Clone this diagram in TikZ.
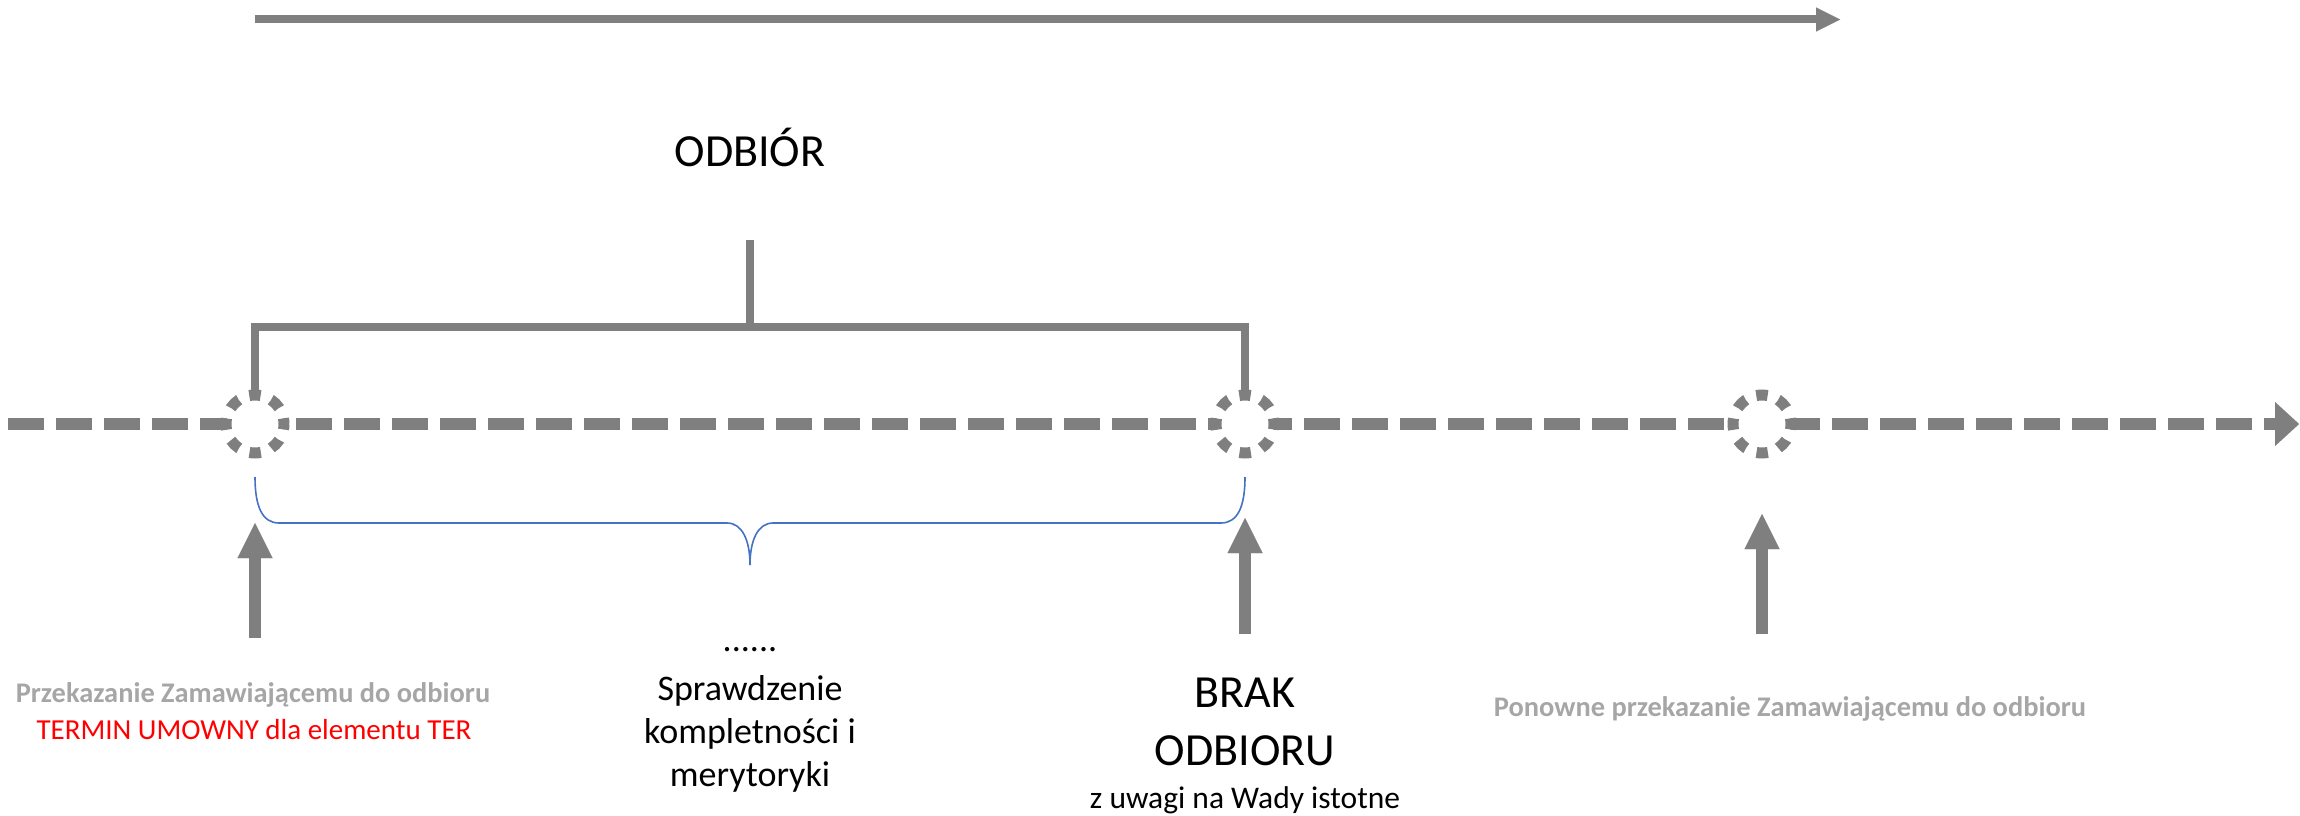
\documentclass[tikz,border=0pt]{standalone}
\usepackage{fontspec}
\setmainfont{Carlito}
\usetikzlibrary{arrows.meta}
\definecolor{lgray}{HTML}{7F7F7F}
\definecolor{tgray}{HTML}{A6A6A6}
\definecolor{bblue}{HTML}{4472C4}
\definecolor{tred}{HTML}{FF0000}
\tikzset{
  timeline/.style={draw=lgray, line width=12pt, dash pattern=on 36pt off 12pt,
    -{Triangle[length=24pt,width=44pt,line width=0.01pt]}},
  milestone/.style={circle, draw=lgray, fill=white, line width=11pt, minimum size=58pt,
    inner sep=0pt, dash pattern=on 11.39pt off 11.39pt, dash phase=5.7pt},
  bracketline/.style={draw=lgray, line width=8pt},
  toparrow/.style={draw=lgray, line width=8pt, -{Triangle[length=24pt,width=24pt,line width=0.01pt]}},
  uparrow/.style={draw=lgray, line width=12pt, -{Triangle[length=35pt,width=35pt,line width=0.01pt]}},
  brace/.style={draw=bblue, line width=1.6pt},
  txt/.style={inner sep=0pt, anchor=base},
  big/.style={txt, font=\fontsize{46}{55}\selectfont},
  mid/.style={txt, font=\fontsize{36}{43}\selectfont},
  sub/.style={txt, font=\fontsize{31.5}{38}\selectfont},
  greytxt/.style={txt, text=tgray, font=\fontsize{28.4}{34}\selectfont\bfseries},
  redtxt/.style={txt, text=tred, font=\fontsize{29}{35}\selectfont},
}
\begin{document}
\begin{tikzpicture}[x=1pt, y=-1pt]
\useasboundingbox (0,0) rectangle (2300,816);
% top arrow
\coordinate (ta1) at (255,19.5);
\coordinate (ta2) at (1840,19.5);
\draw[toparrow] (ta1) -- (ta2);
% timeline
\coordinate (ls) at (8,424);
\coordinate (le) at (2299,424);
\draw[timeline] (ls) -- (le);
% milestones
\node[milestone] (c1) at (255,424) {};
\node[milestone] (c2) at (1245,424) {};
\node[milestone] (c3) at (1762,424) {};
% bracket
\coordinate (btop) at (750,327);
\coordinate (bstem) at (750,240);
\draw[bracketline] (c1.north) |- (btop) -| (c2.north);
\draw[bracketline] (bstem) -- (btop);
\node[big] (odb) at (750,166) {ODBIÓR};
% blue brace
\coordinate (br1) at (255,477);
\coordinate (brm) at (750,565);
\coordinate (br2) at (1245,477);
\draw[brace] (br1) .. controls (255,506) and (262,523) .. (279,523) -- (727,523)
  .. controls (742,523) and (750,540) .. (brm)
  .. controls (750,540) and (758,523) .. (773,523) -- (1221,523)
  .. controls (1238,523) and (1245,506) .. (br2);
% up arrows
\coordinate (u1b) at (255,638); \coordinate (u1t) at (255,523);
\coordinate (u2b) at (1245,634); \coordinate (u2t) at (1245,518);
\coordinate (u3b) at (1762,634); \coordinate (u3t) at (1762,514);
\draw[uparrow] (u1b) -- (u1t);
\draw[uparrow] (u2b) -- (u2t);
\draw[uparrow] (u3b) -- (u3t);
% texts left
\node[greytxt] (t1) at (253,702) {Przekazanie Zamawiającemu do odbioru};
\node[redtxt] (t2) at (254,739) {TERMIN UMOWNY dla elementu TER};
% middle
\node[mid] (m0) at (750,651) {......};
\node[mid] (m1) at (750,700) {Sprawdzenie};
\node[mid] (m2) at (750,743) {kompletności i};
\node[mid] (m3) at (750,786) {merytoryki};
% brak odbioru
\node[big] (k1) at (1245,707) {BRAK};
\node[big] (k2) at (1245,765) {ODBIORU};
\node[sub] (k3) at (1245,808) {z uwagi na Wady istotne};
% right
\node[greytxt] (r1) at (1790,716) {Ponowne przekazanie Zamawiającemu do odbioru};
\end{tikzpicture}
\end{document}
